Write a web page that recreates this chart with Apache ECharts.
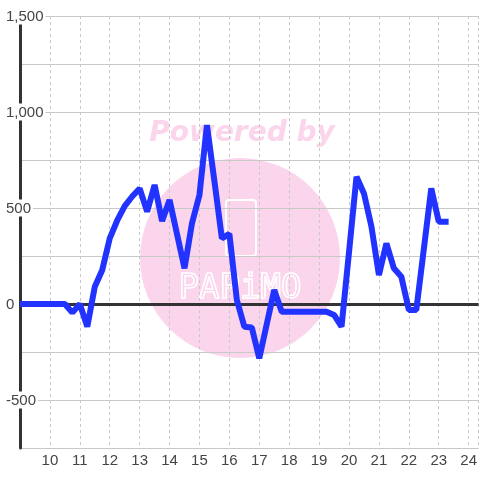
<!DOCTYPE html>
<html>
<head>
<meta charset="utf-8">
<script src="https://cdn.jsdelivr.net/npm/echarts@6/dist/echarts.min.js"></script>
<style>
  html, body { margin: 0; padding: 0; background: #fff; }
  #chart { width: 480px; height: 480px; }
</style>
</head>
<body>
<div id="chart"></div>
<script>
// hour of day (x) and value (y)
const hours = [9.0, 10.5, 10.75, 11.0, 11.25, 11.5, 11.75, 12.0, 12.25, 12.5, 12.75, 13.0, 13.25, 13.5, 13.75,
  14.0, 14.25, 14.5, 14.75, 15.0, 15.25, 15.5, 15.75, 16.0, 16.25, 16.5, 16.75, 17.0, 17.25, 17.5, 17.75,
  19.25, 19.5, 19.75, 20.0, 20.25, 20.5, 20.75, 21.0, 21.25, 21.5, 21.75, 22.0, 22.25, 22.5, 22.75, 23.0, 23.33];
const values = [0, 0, -45, 0, -118, 90, 177, 342, 435, 510, 560, 602, 481, 620, 432,
  542, 364, 186, 420, 568, 932, 640, 342, 365, 21, -118, -122, -283, -105, 73, -40,
  -40, -57, -118, 270, 663, 576, 403, 151, 316, 186, 142, -31, -31, 285, 602, 429, 429];
const yLabelValues = [1500, 1000, 500, 0, -500];

const seriesData = hours.map((h, i) => [h, values[i]]);

const chart = echarts.init(document.getElementById('chart'), null, { renderer: 'canvas' });
const fontFamily = 'Liberation Sans, Arial, sans-serif';

chart.setOption({
  animation: false,
  backgroundColor: '#fff',
  grid: { left: 20, right: 0, top: 16, bottom: 32, containLabel: false },
  graphic: [
    { type: 'circle', z: -10, shape: { cx: 240, cy: 258, r: 100 }, style: { fill: '#fbd5ec' }, silent: true },
    { type: 'text', z: -10, x: 242, y: 134, style: { text: 'Powered by', fill: '#fbd5ec',
        font: 'italic bold 28px "DejaVu Sans"', textAlign: 'center', textVerticalAlign: 'middle' }, silent: true },
    { type: 'rect', z: -9, shape: { x: 226, y: 200, width: 30, height: 56, r: 3 },
      style: { fill: 'none', stroke: '#fff', lineWidth: 2 }, silent: true },
    { type: 'text', z: -9, x: 240, y: 289, style: { text: 'PAPiMO', fill: 'none', stroke: '#fff', lineWidth: 1.6,
        font: '34px "DejaVu Sans Mono"', textAlign: 'center', textVerticalAlign: 'middle' }, silent: true }
  ],
  xAxis: {
    type: 'value',
    min: 9,
    max: 24.333,
    interval: 1,
    axisLine: { show: false },
    axisTick: { show: false },
    axisLabel: { showMinLabel: false, showMaxLabel: false, color: '#444', fontSize: 15, fontFamily: fontFamily, margin: 5 },
    splitLine: { show: true, lineStyle: { color: '#c8c8c8', width: 1, type: [3, 3] } }
  },
  yAxis: {
    type: 'value',
    min: -750,
    max: 1500,
    interval: 250,
    axisLine: { show: true, onZero: false, lineStyle: { color: '#333', width: 3 } },
    axisTick: { show: false },
    axisLabel: {
      align: 'left',
      margin: 14,
      formatter: function (v) {
        if (yLabelValues.indexOf(v) < 0) return '';
        return '{a|' + v.toLocaleString('en-US') + '}';
      },
      rich: { a: { color: '#444', fontSize: 15, fontFamily: fontFamily, backgroundColor: '#fff', padding: [2, 2, 0, 0] } }
    },
    splitLine: { show: true, lineStyle: { color: '#c8c8c8', width: 1 } }
  },
  series: [
    {
      type: 'line',
      data: seriesData,
      z: 10,
      symbol: 'none',
      lineStyle: { color: '#2233ff', width: 6, join: 'bevel' },
      itemStyle: { color: '#2233ff' },
      markLine: {
        silent: true,
        symbol: 'none',
        label: { show: false },
        lineStyle: { color: '#333', width: 3, type: 'solid' },
        data: [{ yAxis: 0 }]
      }
    }
  ]
});
</script>
</body>
</html>
